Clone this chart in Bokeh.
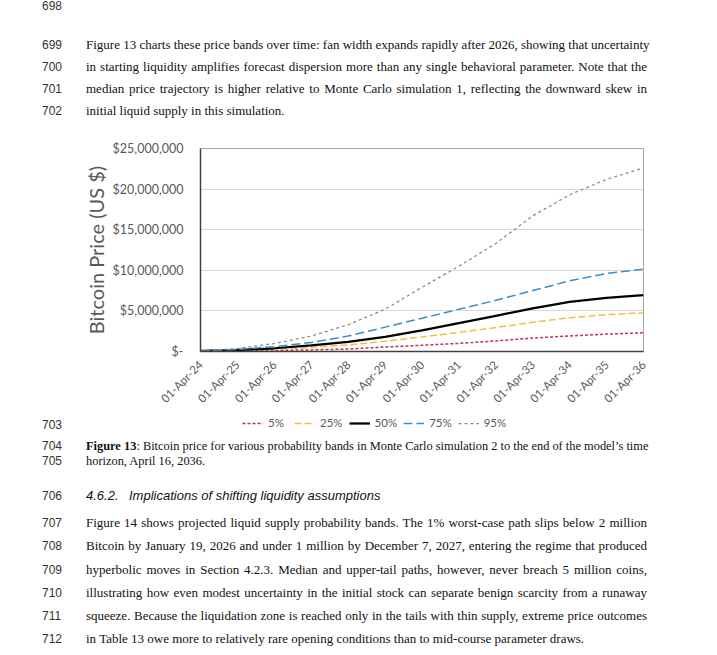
import math
import pandas as pd
from bokeh.plotting import figure
from bokeh.layouts import column, row
from bokeh.models import (Legend, LegendItem, FixedTicker, DatetimeTickFormatter,
                          NumeralTickFormatter, Range1d, Div)
from bokeh.embed import file_html
from bokeh.resources import INLINE

# ---------------- data ----------------
dates = ["2024-04-01", "2025-04-01", "2026-04-01", "2027-04-01", "2028-04-01", "2029-04-01",
         "2030-04-01", "2031-04-01", "2032-04-01", "2033-04-01", "2034-04-01", "2035-04-01",
         "2036-04-01"]
p5 = [0.07, 0.08, 0.13, 0.20, 0.30, 0.55, 0.77, 1.00, 1.30, 1.65, 1.92, 2.14, 2.30]
p25 = [0.07, 0.12, 0.27, 0.50, 0.82, 1.26, 1.80, 2.35, 2.95, 3.60, 4.15, 4.55, 4.75]
p50 = [0.07, 0.16, 0.40, 0.75, 1.18, 1.80, 2.60, 3.50, 4.40, 5.30, 6.10, 6.60, 6.95]
p75 = [0.07, 0.25, 0.60, 1.10, 1.90, 3.00, 4.10, 5.20, 6.30, 7.50, 8.70, 9.60, 10.15]
p95 = [0.07, 0.37, 0.98, 1.90, 3.30, 5.20, 7.90, 10.50, 13.30, 16.70, 19.30, 21.20, 22.60]
series_names = ["5%", "25%", "50%", "75%", "95%"]
y_ticks = [0, 5e6, 10e6, 15e6, 20e6, 25e6]
y_title = "Bitcoin Price (US $)"

top_nums = ["698", "699", "700", "701", "702"]
top_text = [
    "",
    "Figure 13 charts these price bands over time: fan width expands rapidly after 2026, showing that uncertainty",
    "in starting liquidity amplifies forecast dispersion more than any single behavioral parameter. Note that the",
    "median price trajectory is higher relative to Monte Carlo simulation 1, reflecting the downward skew in",
    "initial liquid supply in this simulation.",
]
top_full = [False, True, True, True, False]
mid_num = "703"
cap_nums = ["704", "705"]
caption_bold = "Figure 13"
caption_rest = ": Bitcoin price for various probability bands in Monte Carlo simulation 2 to the end of the model\u2019s time"
caption_line2 = "horizon, April 16, 2036."
heading_numlabel = "706"
heading_num = "4.6.2."
heading_text = "Implications of shifting liquidity assumptions"
bottom_nums = ["707", "708", "709", "710", "711", "712"]
bottom_text = [
    "Figure 14 shows projected liquid supply probability bands. The 1% worst-case path slips below 2 million",
    "Bitcoin by January 19, 2026 and under 1 million by December 7, 2027, entering the regime that produced",
    "hyperbolic moves in Section 4.2.3. Median and upper-tail paths, however, never breach 5 million coins,",
    "illustrating how even modest uncertainty in the initial stock can separate benign scarcity from a runaway",
    "squeeze. Because the liquidation zone is reached only in the tails with thin supply, extreme price outcomes",
    "in Table 13 owe more to relatively rare opening conditions than to mid-course parameter draws.",
]
bottom_full = [True, True, True, True, True, False]

# ---------------- layout constants (page pixels) ----------------
W, H = 717, 655
TOP_H = 130          # top text strip: page y 0..130
CH_B = 412           # chart strip: page y 130..412
LEG_B = 436          # legend strip: page y 412..436
LEFT_W = 80
NUMX = 42
TEXTX = 86
TEXT_W = 561
SERIF = "'Liberation Serif', 'Times New Roman', serif"
SANS = "'Liberation Sans', Arial, sans-serif"
GRAY = "#595959"


def span(txt, x, y, y0, font=SERIF, size=13.0, weight="normal", style="normal", color="#111",
         justify=False):
    lh = 16
    just = (f"width:{TEXT_W}px;text-align:justify;text-align-last:justify;display:block;"
            if justify else "")
    return (f'<span style="position:absolute;left:{x}px;top:{y - y0 - lh / 2:.1f}px;'
            f'height:{lh}px;line-height:{lh}px;white-space:nowrap;font-family:{font};'
            f'font-size:{size}px;font-weight:{weight};font-style:{style};color:{color};{just}">'
            f'{txt}</span>')


def text_div(spans, width, height):
    html = (f'<div style="position:relative;width:{width}px;height:{height}px;'
            f'overflow:visible;margin:0;padding:0;">' + "".join(spans) + "</div>")
    return Div(text=html, width=width, height=height, styles={"margin": "0", "padding": "0"})


def num(n, y, y0):
    return span(n, NUMX, y, y0, font=SANS, size=12, color="#333")


# top text
top_y = [6, 45, 67, 89, 111]
sp = [num(n, yy, 0) for n, yy in zip(top_nums, top_y)]
sp += [span(t, TEXTX, yy, 0, justify=f)
       for t, yy, f in zip(top_text[1:], top_y[1:], top_full[1:])]
top = text_div(sp, W, TOP_H)

left_blank = text_div([], LEFT_W, CH_B - TOP_H)
left_num = text_div([num(mid_num, 425, CH_B)], LEFT_W, LEG_B - CH_B)

# ---------------- chart ----------------
x = pd.to_datetime(dates)
vals = [[v * 1e6 for v in s] for s in (p5, p25, p50, p75, p95)]

p = figure(width=W - LEFT_W, height=CH_B - TOP_H, x_axis_type="datetime", output_backend="svg",
           toolbar_location=None, min_border_left=199 - LEFT_W, min_border_right=W - 643,
           min_border_top=148 - TOP_H, min_border_bottom=CH_B - 353,
           x_range=Range1d(x[0], x[-1]), y_range=Range1d(0, 25e6))
p.background_fill_color = "white"
p.border_fill_color = "white"
p.outline_line_color = "#A6A6A6"
p.outline_line_width = 1

p.xgrid.grid_line_color = None
p.ygrid.grid_line_color = "#D9D9D9"
p.ygrid.ticker = FixedTicker(ticks=y_ticks)

ya = p.yaxis[0]
ya.ticker = FixedTicker(ticks=y_ticks)
ya.formatter = NumeralTickFormatter(format="$0,0")
ya.major_label_overrides = {0: "$-"}
ya.major_tick_line_color = None
ya.minor_tick_line_color = None
ya.major_tick_out = 0
ya.major_tick_in = 0
ya.major_label_standoff = 17
ya.major_label_text_font = "Lato"
ya.major_label_text_font_size = "12.5px"
ya.major_label_text_color = GRAY
ya.axis_line_color = "#404040"
ya.axis_line_width = 1.5
ya.axis_label = y_title
ya.axis_label_text_font = "Lato"
ya.axis_label_text_font_style = "normal"
ya.axis_label_text_font_size = "20px"
ya.axis_label_text_color = GRAY
ya.axis_label_standoff = 2

xa = p.xaxis[0]
xa.ticker = FixedTicker(ticks=[d.value // 10**6 for d in x])
fmt = "%d-%b-%y"
xa.formatter = DatetimeTickFormatter(years=fmt, months=fmt, days=fmt, hours=fmt,
                                     milliseconds=fmt, seconds=fmt, minsec=fmt,
                                     minutes=fmt, hourmin=fmt)
xa.major_label_orientation = math.pi / 4
xa.major_tick_line_color = None
xa.minor_tick_line_color = None
xa.major_tick_out = 0
xa.major_tick_in = 0
xa.major_label_standoff = 11
xa.major_label_text_font = "Lato"
xa.major_label_text_font_size = "11.5px"
xa.major_label_text_color = GRAY
xa.axis_line_color = "#404040"
xa.axis_line_width = 1.5

styles = [
    dict(color="#C3324F", width=1.5, dash="3 2"),
    dict(color="#F2C043", width=1.5, dash="7 3"),
    dict(color="#000000", width=2.25, dash="solid"),
    dict(color="#3A8DCB", width=1.5, dash="9 4"),
    dict(color="#8F8A78", width=1.25, dash="3 3"),
]
for v, st in zip(vals, styles):
    p.line(x, v, line_color=st["color"], line_width=st["width"], line_dash=st["dash"])

# ---------------- legend strip ----------------
LEG_W = W - LEFT_W
legfig = figure(width=LEG_W, height=LEG_B - CH_B, x_axis_type="datetime",
                x_range=Range1d(x[0], x[-1]), y_range=Range1d(-3e6, -2e6),
                toolbar_location=None, output_backend="svg", min_border=0)
legfig.axis.visible = False
legfig.grid.grid_line_color = None
legfig.outline_line_color = None
legfig.background_fill_color = "white"
legfig.border_fill_color = "white"
keys = []
for v, st in zip(vals, styles):   # same series, outside this strip's view: only the keys show
    keys.append(legfig.line(x, v, line_color=st["color"], line_width=st["width"],
                            line_dash=st["dash"]))
legend = Legend(items=[LegendItem(label=n, renderers=[r]) for n, r in zip(series_names, keys)],
                orientation="horizontal", location=(242 - LEFT_W, LEG_B - 429.5))
legend.background_fill_alpha = 0
legend.border_line_color = None
legend.padding = 0
legend.margin = 0
legend.spacing = 6
legend.glyph_width = 21
legend.glyph_height = 14
legend.label_height = 14
legend.label_standoff = 5
legend.label_text_font = "Lato"
legend.label_text_font_size = "11.5px"
legend.label_text_color = GRAY
legfig.add_layout(legend, "center")

# ---------------- bottom text ----------------
y0 = LEG_B
sp = [num(n, yy, y0) for n, yy in zip(cap_nums, [446, 461])]
sp.append(span(f"<b>{caption_bold}</b>{caption_rest}", TEXTX, 446, y0, size=12.4, justify=True))
sp.append(span(caption_line2, TEXTX, 461, y0, size=12.4))
sp.append(num(heading_numlabel, 496, y0))
sp.append(span(heading_num, TEXTX, 496, y0, font=SANS, size=13, style="italic"))
sp.append(span(heading_text, 129, 496, y0, font=SANS, size=13, style="italic"))
bot_y = [523, 546, 570, 593, 616, 639]
sp += [num(n, yy, y0) for n, yy in zip(bottom_nums, bot_y)]
sp += [span(t, TEXTX, yy, y0, justify=f) for t, yy, f in zip(bottom_text, bot_y, bottom_full)]
bot = text_div(sp, W, H - LEG_B)

layout = column(top, row(left_blank, p), row(left_num, legfig), bot)
open("out.html", "w").write(file_html(layout, INLINE))
